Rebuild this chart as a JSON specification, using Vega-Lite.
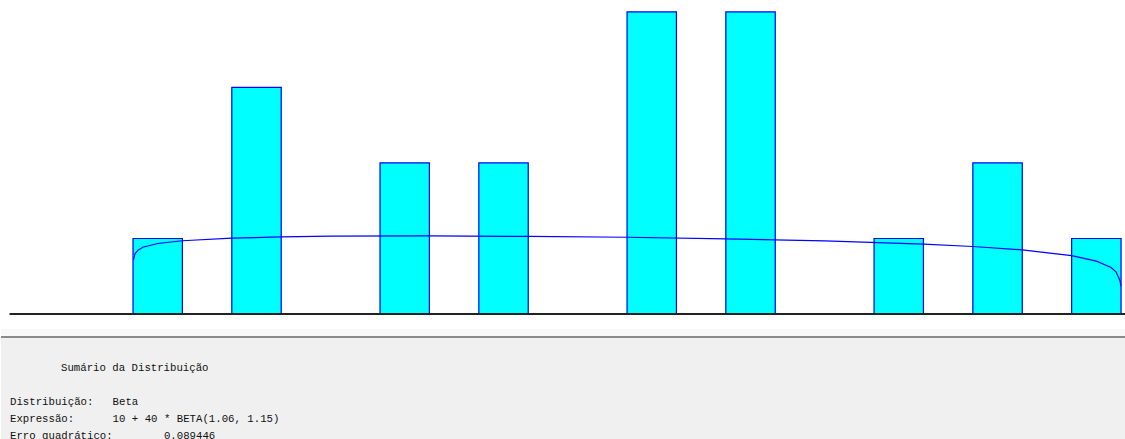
{
  "$schema": "https://vega.github.io/schema/vega-lite/v6.json",
  "padding": 0,
  "bounds": "flush",
  "spacing": 15,
  "background": "#ffffff",
  "config": {"view": {"stroke": null}},
  "datasets": {
    "bars": [
      {"lo": 10, "hi": 12, "freq": 0.05},
      {"lo": 14, "hi": 16, "freq": 0.15},
      {"lo": 20, "hi": 22, "freq": 0.10},
      {"lo": 24, "hi": 26, "freq": 0.10},
      {"lo": 30, "hi": 32, "freq": 0.20},
      {"lo": 34, "hi": 36, "freq": 0.20},
      {"lo": 40, "hi": 42, "freq": 0.05},
      {"lo": 44, "hi": 46, "freq": 0.10},
      {"lo": 48, "hi": 50, "freq": 0.05}
    ],
    "curve": [
      {"x": 10.02, "d": 0.0360},
      {"x": 10.08, "d": 0.0398},
      {"x": 10.2, "d": 0.0423},
      {"x": 10.4, "d": 0.0442},
      {"x": 11.0, "d": 0.0467},
      {"x": 12.0, "d": 0.0485},
      {"x": 14.0, "d": 0.0502},
      {"x": 16.0, "d": 0.0510},
      {"x": 18.0, "d": 0.0515},
      {"x": 22.0, "d": 0.0517},
      {"x": 26.0, "d": 0.0514},
      {"x": 30.0, "d": 0.0508},
      {"x": 34.0, "d": 0.0498},
      {"x": 38.0, "d": 0.0484},
      {"x": 42.0, "d": 0.0463},
      {"x": 44.0, "d": 0.0447},
      {"x": 46.0, "d": 0.0425},
      {"x": 48.0, "d": 0.0386},
      {"x": 49.0, "d": 0.0350},
      {"x": 49.6, "d": 0.0308},
      {"x": 49.8, "d": 0.0278},
      {"x": 49.96, "d": 0.0220},
      {"x": 49.99, "d": 0.0185}
    ],
    "header": [
      {"row": 0, "text": "Sumário da Distribuição"}
    ],
    "summary": [
      {"row": 2, "text": "Distribuição:\u00a0\u00a0\u00a0Beta"},
      {"row": 3, "text": "Expressão:\u00a0\u00a0\u00a0\u00a0\u00a0\u00a010 + 40 * BETA(1.06, 1.15)"},
      {"row": 4, "text": "Erro quadrático:\u00a0\u00a0\u00a0\u00a0\u00a0\u00a0\u00a0\u00a00.089446"}
    ]
  },
  "vconcat": [
    {
      "width": 1125,
      "height": 314,
      "layer": [
        {
          "data": {"name": "bars"},
          "mark": {"type": "rect", "fill": "#00ffff", "stroke": "#0000ff", "strokeWidth": 1.2},
          "encoding": {
            "x": {"field": "lo", "type": "quantitative", "axis": null, "scale": {"domain": [4.656, 50.2], "nice": false, "zero": false}},
            "x2": {"field": "hi"},
            "y": {"field": "freq", "type": "quantitative", "axis": null, "scale": {"domain": [0, 0.2079], "nice": false}},
            "y2": {"datum": 0}
          }
        },
        {
          "data": {"name": "curve"},
          "mark": {"type": "line", "color": "#0000ff", "strokeWidth": 1.2},
          "encoding": {
            "x": {"field": "x", "type": "quantitative"},
            "y": {"field": "d", "type": "quantitative"}
          }
        },
        {
          "data": {"values": [{}]},
          "mark": {"type": "rule", "color": "#222222", "strokeWidth": 2},
          "encoding": {
            "x": {"datum": 5, "type": "quantitative"},
            "x2": {"datum": 50.2},
            "y": {"datum": 0, "type": "quantitative"}
          }
        }
      ]
    },
    {
      "width": 1125,
      "height": 110,
      "view": {"fill": "#f0f0f0", "stroke": null},
      "layer": [
        {
          "data": {"values": [{}]},
          "mark": {"type": "rect", "fill": "#f8f8f8"},
          "encoding": {
            "y": {"datum": -2.294, "type": "quantitative", "axis": null, "scale": {"domain": [-2.294, 4.176], "nice": false, "zero": false, "reverse": true}},
            "y2": {"datum": -1.88}
          }
        },
        {
          "data": {"values": [{}]},
          "mark": {"type": "rule", "color": "#8a8a8a", "strokeWidth": 2},
          "encoding": {
            "y": {"datum": -1.82, "type": "quantitative"}
          }
        },
        {
          "data": {"name": "header"},
          "mark": {"type": "text", "align": "left", "baseline": "middle", "font": "Liberation Mono", "fontSize": 10.7, "color": "#111111"},
          "encoding": {
            "x": {"value": 60},
            "y": {"field": "row", "type": "quantitative"},
            "text": {"field": "text", "type": "nominal"}
          }
        },
        {
          "data": {"name": "summary"},
          "mark": {"type": "text", "align": "left", "baseline": "middle", "font": "Liberation Mono", "fontSize": 10.7, "color": "#111111"},
          "encoding": {
            "x": {"value": 9},
            "y": {"field": "row", "type": "quantitative"},
            "text": {"field": "text", "type": "nominal"}
          }
        }
      ]
    }
  ]
}
